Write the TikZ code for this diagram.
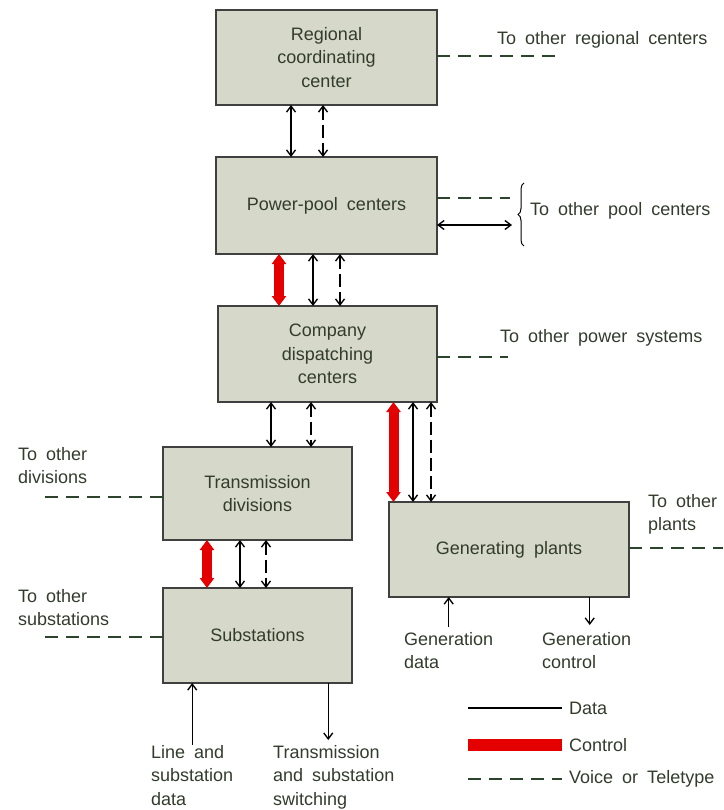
\documentclass[tikz,border=0pt]{standalone}
\usepackage{fontspec}
\setmainfont{Liberation Sans}[WordSpace=1.8]
\usepackage{xcolor}
\usepackage{tikz}
\usetikzlibrary{arrows.meta, positioning, decorations.pathreplacing}

\definecolor{boxfill}{RGB}{214,216,202}
\definecolor{inkgreen}{RGB}{50,60,44}
\definecolor{voicegreen}{RGB}{44,68,44}
\definecolor{ctrlred}{RGB}{228,0,0}

\begin{document}
\begin{tikzpicture}[x=1pt, y=-1pt, node distance=52pt,
  every node/.style={text=inkgreen, font=\fontsize{18}{23.5}\selectfont},
  unit/.style={rectangle, draw=black!75, line width=1.3pt, fill=boxfill, align=center, inner sep=2pt, outer sep=0pt},
  note/.style={align=left, inner sep=0pt, anchor=north west},
  tag/.style={inner sep=0pt, anchor=west},
  data/.style={line width=1.35pt, {Straight Barb[length=6pt,width=9pt]}-{Straight Barb[length=6pt,width=9pt]}},
  datain/.style={line width=1.35pt, -{Straight Barb[length=6pt,width=9pt]}},
  voice/.style={data, dash pattern=on 13pt off 5pt},
  control/.style={draw=ctrlred, line width=10pt, {Triangle[length=10pt,width=14pt]}-{Triangle[length=10pt,width=14pt]}},
  teletype/.style={draw=voicegreen, line width=2pt, dash pattern=on 13pt off 8pt}]
\useasboundingbox (0,0) rectangle (723,810);

% boxes
\node (regional) [unit, minimum width=221pt, minimum height=95pt] at (326.5,57.5) {Regional\\coordinating\\center};
\node (pool) [unit, below=52pt of regional, minimum width=221pt, minimum height=97pt] {Power-pool centers};
\node (company) [unit, below=52pt of pool, xshift=1pt, minimum width=219pt, minimum height=96pt] {Company\\dispatching\\centers};
\node (trans) [unit, below=45pt of company, xshift=-70pt, minimum width=189pt, minimum height=93pt] {Transmission\\divisions};
\node (subst) [unit, below=48pt of trans, minimum width=189pt, minimum height=95pt] {Substations};
\node (gen) [unit, below=100pt of company, xshift=181.5pt, minimum width=240pt, minimum height=95pt] {Generating plants};

% outside texts
\node (regtxt) [tag] at (497,40) {To other regional centers};
\node (pooltxt) [tag] at (530,211) {To other pool centers};
\node (comptxt) [tag] at (500,338) {To other power systems};
\node (divtxt) [note] at (18,447) {To other\\divisions};
\node (subtxt) [note] at (18,589) {To other\\substations};
\node (planttxt) [note] at (648,494) {To other\\plants};
\node (gendata) [note] at (404,632) {Generation\\data};
\node (genctrl) [note] at (542,632) {Generation\\control};
\node (linedata) [note] at (151,745) {Line and\\substation\\data};
\node (switching) [note] at (273,745) {Transmission\\and substation\\switching};

% links between levels
\draw [data] ([xshift=-35.5pt]regional.south) -- ([xshift=-35.5pt]pool.north);
\draw [voice] ([xshift=-3.5pt]regional.south) -- ([xshift=-3.5pt]pool.north);
\draw [control] ([xshift=-47.5pt]pool.south) -- ([xshift=-47.5pt]pool.south |- company.north);
\draw [data] ([xshift=-13.5pt]pool.south) -- ([xshift=-13.5pt]pool.south |- company.north);
\draw [voice] ([xshift=13.5pt]pool.south) -- ([xshift=13.5pt]pool.south |- company.north);
\draw [data] ([xshift=-56.5pt]company.south) -- ([xshift=-56.5pt]company.south |- trans.north);
\draw [voice] ([xshift=-16.5pt]company.south) -- ([xshift=-16.5pt]company.south |- trans.north);
\draw [control] ([xshift=66pt]company.south) -- ([xshift=66pt]company.south |- gen.north);
\draw [data] ([xshift=85.5pt]company.south) -- ([xshift=85.5pt]company.south |- gen.north);
\draw [voice] ([xshift=103.5pt]company.south) -- ([xshift=103.5pt]company.south |- gen.north);
\draw [control] ([xshift=-50.5pt]trans.south) -- ([xshift=-50.5pt]trans.south |- subst.north);
\draw [data] ([xshift=-17.5pt]trans.south) -- ([xshift=-17.5pt]trans.south |- subst.north);
\draw [voice] ([xshift=8.5pt]trans.south) -- ([xshift=8.5pt]trans.south |- subst.north);

% links to the outside
\coordinate (regend) at (560,56);
\coordinate (poolvoice) at (510,198);
\coordinate (pooldata) at (512,225);
\coordinate (bracetop) at (524,183);
\coordinate (bracebot) at (524,246);
\coordinate (compend) at (508,357);
\coordinate (divend) at (40,497);
\coordinate (subend) at (40,637);
\coordinate (plantend) at (723,548);
\draw [teletype] (regional.east |- regend) -- (regend);
\draw [teletype] (pool.east |- poolvoice) -- (poolvoice);
\draw [data] (pool.east |- pooldata) -- (pooldata);
\draw [line width=1pt, decorate, decoration={brace, amplitude=6pt}] (bracebot) -- (bracetop);
\draw [teletype] (company.east |- compend) -- (compend);
\draw [teletype] (trans.west |- divend) -- (divend);
\draw [teletype] (subst.west |- subend) -- (subend);
\draw [teletype] (gen.east |- plantend) -- (plantend);

% inputs and outputs
\draw [datain] (linedata.north) -- (linedata.north |- subst.south);
\draw [datain] ([xshift=-5.5pt]switching.north |- subst.south) -- ([xshift=-5.5pt,yshift=5pt]switching.north);
\draw [datain] ([yshift=5pt]gendata.north) -- (gendata.north |- gen.south);
\draw [datain] ([xshift=3pt]genctrl.north |- gen.south) -- ([xshift=3pt,yshift=7pt]genctrl.north);

% legend
\node (keydata) [tag] at (569,708) {Data};
\node (keyctrl) [tag] at (569,745) {Control};
\node (keyvoice) [tag] at (569,779) {Voice or Teletype};
\draw [line width=1.35pt] (keydata.west) ++(-101,0) -- ([xshift=-7pt]keydata.west);
\draw [ctrlred, line width=12pt] (keyctrl.west) ++(-101,0) -- ([xshift=-7pt]keyctrl.west);
\draw [teletype] (keyvoice.west) ++(-101,0) -- ([xshift=-7pt]keyvoice.west);
\end{tikzpicture}
\end{document}
